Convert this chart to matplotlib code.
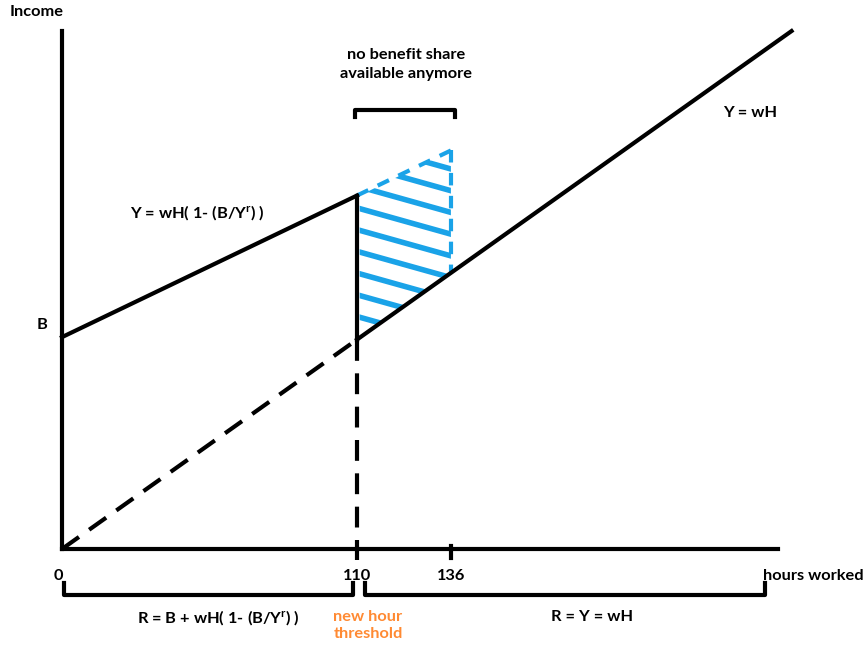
import numpy as np
import matplotlib
matplotlib.use('Agg')
from matplotlib import pyplot as plt
from matplotlib.patches import Polygon

plt.rcParams['font.family'] = ['Lato', 'DejaVu Sans']
plt.rcParams['font.weight'] = 'bold'
plt.rcParams['mathtext.fontset'] = 'custom'
plt.rcParams['mathtext.rm'] = 'Lato:bold'
plt.rcParams['mathtext.it'] = 'Lato:bold'
plt.rcParams['mathtext.bf'] = 'Lato:bold'

# schematic values (drawing units, not to scale)
hour_pos = [0, 110, 145]
hour_labels = ['0', '110', '136']
x_end = 267          # end of hours axis
y_top = 193          # top of income axis
B = 79               # benefit intercept
k = 0.48             # slope of income with benefit share
w = 0.71             # wage slope, Y = wH
h_line_end = 272     # end of the Y = wH line

blue = '#1aa3e8'
orange = '#ff8a33'
lw = 3

fig = plt.figure(figsize=(8.68, 6.48), dpi=100)
ax = fig.add_axes([0, 0, 1, 1])
ax.set_xlim(-23.1, 300.5)
ax.set_ylim(-36.9, 204.7)
ax.axis('off')

h1 = hour_pos[1]
h2 = hour_pos[2]

# axes
ax.plot([0, 0], [0, y_top], color='k', lw=lw)
ax.plot([0, x_end], [0, 0], color='k', lw=lw)

# shaded area (no benefit share)
poly = [(h1 + 1, B + k * h1), (h2, B + k * h2), (h2, w * h2), (h1 + 1, w * h1)]
patch = Polygon(poly, closed=True, fc='none', ec='none')
ax.add_patch(patch)
for c in np.arange(127.2 - 6 * 8.1, 175, 8.1):
    xs = np.array([h1 - 5, h2 + 5])
    ln, = ax.plot(xs, c - 0.28 * (xs - h1), color=blue, lw=4, solid_capstyle='butt')
    ln.set_clip_path(patch)
ax.plot([h1, h2], [B + k * h1, B + k * h2], color=blue, lw=lw, dashes=(3, 2.5))
ax.plot([h2, h2], [B + k * h2, w * h2], color=blue, lw=lw, dashes=(3, 2.5))

# Y = wH line
ax.plot([0, h1], [0, w * h1], color='k', lw=lw, dashes=(5, 3))
ax.plot([h1, h_line_end], [w * h1, w * h_line_end], color='k', lw=lw)

# income with benefit share
ax.plot([0, h1], [B, B + k * h1], color='k', lw=lw)
ax.plot([h1, h1], [B + k * h1, w * h1], color='k', lw=lw)
ax.plot([h1, h1], [w * h1, -4.1], color='k', lw=lw, dashes=(5, 3))

# tick at 136
ax.plot([h2, h2], [1.1, -3.4], color='k', lw=lw)

# top bracket
ax.plot([h1 - 0.8, h1 - 0.8, h2 + 1.5, h2 + 1.5], [161.1, 163.7, 163.7, 161.1],
        color='k', lw=lw)

# bottom brackets
ax.plot([0.75, 0.75, 108.5, 108.5], [-12.7, -17.2, -17.2, -12.7], color='k', lw=lw)
ax.plot([113, 113, 262.1, 262.1], [-12.7, -17.2, -17.2, -12.7], color='k', lw=lw)

fs = 11.8
ax.text(-19.4, 200.2, 'Income', fontsize=fs, ha='left', va='center')
ax.text(-7.5, 83.5, 'B', fontsize=fs, ha='center', va='center')
ax.text(50.3, 125.3, r'Y = wH( 1- (B/Y$^{r}$) )', fontsize=fs, ha='center', va='center')
ax.text(256.5, 162.6, 'Y = wH', fontsize=fs, ha='center', va='center')
ax.text(128.3, 180.7, 'no benefit share\navailable anymore', fontsize=fs,
        ha='center', va='center', linespacing=1.45)

for p, lab in zip(hour_pos, hour_labels):
    ax.text(p - (1.5 if lab == '0' else 0), -10.1, lab, fontsize=fs, ha='center', va='center')
ax.text(261.4, -10.1, 'hours worked', fontsize=fs, ha='left', va='center')

ax.text(58.2, -25.4, r'R = B + wH( 1- (B/Y$^{r}$) )', fontsize=fs, ha='center', va='center')
ax.text(114.1, -28.5, 'new hour\nthreshold', fontsize=fs, ha='center', va='center',
        color=orange, linespacing=1.2)
ax.text(197.6, -25.4, 'R = Y = wH', fontsize=fs, ha='center', va='center')

fig.savefig('out.png', dpi=100)
